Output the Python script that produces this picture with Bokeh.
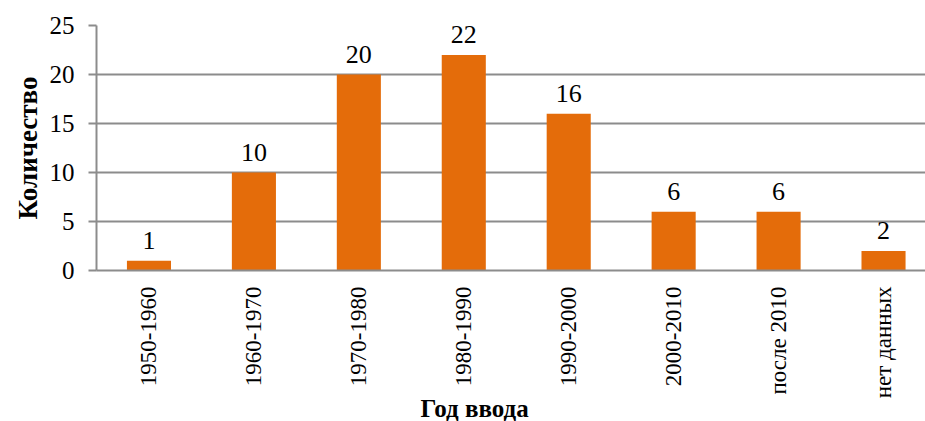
from bokeh.plotting import figure
from bokeh.models import ColumnDataSource, FixedTicker, Range1d, Title
from bokeh.core.properties import value
from bokeh.embed import file_html
from bokeh.resources import INLINE
import math

# Commissioning periods and number of objects per period
categories = ["1950-1960", "1960-1970", "1970-1980", "1980-1990",
              "1990-2000", "2000-2010", "после 2010", "нет данных"]
counts = [1, 10, 20, 22, 16, 6, 6, 2]
y_ticks = [0, 5, 10, 15, 20, 25]

FONT = "'Liberation Serif', 'Times New Roman', serif"
BAR = "#E46C0A"
GRID = "#8C8C8C"

xs = [i + 0.5 for i in range(len(categories))]
src = ColumnDataSource(dict(x=xs, top=counts, label=[str(c) for c in counts]))

p = figure(width=925, height=421, output_backend="svg", toolbar_location=None,
           x_range=Range1d(0, 7.9), y_range=Range1d(0, 25),
           min_border_left=96, min_border_right=0, min_border_top=25,
           min_border_bottom=151)
p.outline_line_color = None
p.background_fill_color = "white"

p.vbar(x="x", top="top", width=0.42, source=src, fill_color=BAR, line_color=None)
p.text(x="x", y="top", text="label", source=src, text_align="center",
       text_baseline="bottom", y_offset=-12, text_font=value(FONT),
       text_font_size="26px", text_color="black")

# y axis
p.yaxis.ticker = FixedTicker(ticks=y_ticks)
p.yaxis.axis_line_color = GRID
p.yaxis.axis_line_width = 2
p.yaxis.major_tick_line_color = GRID
p.yaxis.major_tick_line_width = 2
p.yaxis.major_tick_out = 8
p.yaxis.major_tick_in = 0
p.yaxis.minor_tick_line_color = None
p.yaxis.major_label_text_font = FONT
p.yaxis.major_label_text_font_size = "25px"
p.yaxis.major_label_text_color = "black"
p.yaxis.major_label_standoff = 14
p.yaxis.axis_label = "Количество"
p.yaxis.axis_label_text_font = FONT
p.yaxis.axis_label_text_font_size = "27px"
p.yaxis.axis_label_text_font_style = "bold"
p.yaxis.axis_label_text_color = "black"
p.yaxis.axis_label_standoff = 4

# x axis
p.xaxis.ticker = FixedTicker(ticks=xs)
p.xaxis.major_label_overrides = {x: c for x, c in zip(xs, categories)}
p.xaxis.major_label_orientation = math.pi / 2
p.xaxis.axis_line_color = GRID
p.xaxis.axis_line_width = 2
p.xaxis.major_tick_line_color = None
p.xaxis.minor_tick_line_color = None
p.xaxis.major_label_text_font = FONT
p.xaxis.major_label_text_font_size = "23px"
p.xaxis.major_label_text_color = "black"
p.xaxis.major_label_standoff = 10

p.xgrid.grid_line_color = None
p.ygrid.ticker = FixedTicker(ticks=y_ticks)
p.ygrid.grid_line_color = GRID
p.ygrid.grid_line_width = 2

p.add_layout(Title(text="Год ввода", align="left", offset=324,
                   text_font=FONT, text_font_size="25px",
                   text_font_style="bold", text_color="black", standoff=-18),
             "below")

open("out.html", "w").write(file_html(p, INLINE))
